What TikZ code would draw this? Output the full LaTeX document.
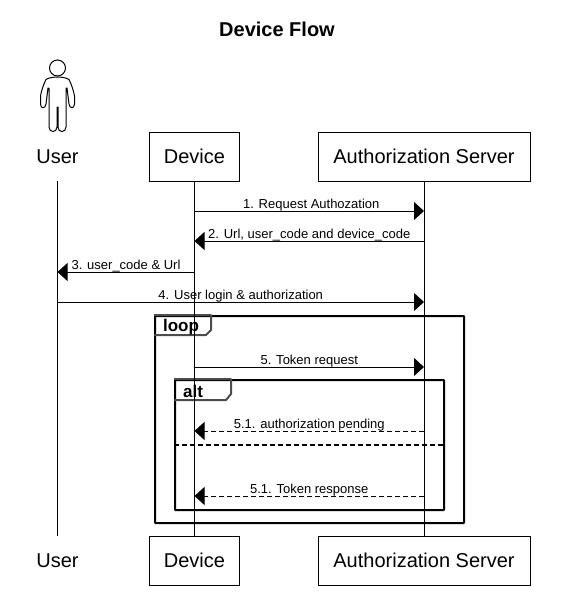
\documentclass[tikz,border=0pt]{standalone}
\usepackage{fontspec}
\setmainfont{Liberation Sans}
\usetikzlibrary{arrows.meta}

\begin{document}
\begin{tikzpicture}[x=1pt,y=-1pt,
  headbox/.style={draw,line width=1pt,font=\fontsize{20}{24}\selectfont,minimum height=49pt,inner sep=0pt},
  actorname/.style={font=\fontsize{20}{24}\selectfont,minimum height=49pt,minimum width=50pt,inner sep=0pt},
  msg/.style={line width=1pt,-{Triangle[length=10pt,width=18pt]}},
  reply/.style={msg,dash pattern=on 5pt off 3pt},
  msgtext/.style={above,font=\fontsize{13}{15}\selectfont,inner sep=0pt,yshift=-1pt},
  framebox/.style={draw,line width=2pt,rounded corners=0.5pt,inner sep=0pt},
  tabline/.style={line width=2pt,line join=round,draw=black!70},
  tabtext/.style={font=\bfseries\fontsize{17}{20}\selectfont,inner sep=0pt}]
\useasboundingbox (0,0) rectangle (563,597);

\node [font=\bfseries\fontsize{20}{24}\selectfont] (title) at (277,29) {Device Flow};

% person above the first lifeline
\draw [line width=1pt] (57.5,68) circle (8);
\draw [line width=1pt,line join=round] (57.5,77)
  .. controls (53,77) and (48,78) .. (46,79.5) .. controls (44,83) and (41,92) .. (40.5,96)
  -- (40.5,104) .. controls (40.5,109) and (45.5,109) .. (46,104) -- (48,88) -- (49,88)
  -- (49,127) .. controls (49,133) and (57,133) .. (57,127) -- (57,107) -- (58,107) -- (58,127)
  .. controls (58,133) and (66,133) .. (66,127) -- (66,88) -- (67,88) -- (69,104)
  .. controls (69.5,109) and (74.5,109) .. (74.5,104) -- (74.5,96)
  .. controls (74,92) and (71,83) .. (69,79.5) .. controls (67,78) and (62,77) .. (57.5,77);

\node [actorname] (user)  at (57.5,156.5) {User};
\node [headbox,minimum width=90pt]  (device) at (194.5,156.5) {Device};
\node [headbox,minimum width=212pt] (auth)   at (424,156.5)   {Authorization Server};
\node [actorname] (user2)  at (57.5,560.5) {User};
\node [headbox,minimum width=90pt]  (device2) at (194.5,560.5) {Device};
\node [headbox,minimum width=212pt] (auth2)   at (424,560.5)   {Authorization Server};

% frames first, the lifelines run over them
\node [framebox,minimum width=309pt,minimum height=207pt] (loopframe) at (309.5,419.5) {};
\node [framebox,minimum width=269pt,minimum height=130pt] (altframe)  at (309.5,445) {};
\draw [line width=2pt,dash pattern=on 5pt off 3pt] (altframe.west) -- (altframe.east);
\draw [tabline] (loopframe.north west) -- ++(57,0) -- ++(0,15) -- ++(-5,5) -- ++(-52,0);
\draw [tabline] (altframe.north west) -- ++(57,0) -- ++(0,15) -- ++(-5,6) -- ++(-52,0);
\node [tabtext] (looptext) at (181,327.5) {loop};
\node [tabtext] (alttext)  at (193,391.5) {alt};

\draw [line width=1pt] (user)   -- (user2);
\draw [line width=1pt] (device) -- (device2);
\draw [line width=1pt] (auth)   -- (auth2);

\foreach \row/\ypos in {a/211,b/241,c/272,d/302,e/367,f/431,g/496} {
  \coordinate (u\row) at (user |- 0,\ypos);
  \coordinate (d\row) at (device |- 0,\ypos);
  \coordinate (s\row) at (auth |- 0,\ypos);
}

\draw [msg] (da) to node [msgtext,xshift=2pt] {1. Request Authozation} (sa);
\draw [msg] (sb) to node [msgtext] {2. Url, user\_code and device\_code} (db);
\draw [msg] (dc) to node [msgtext] {3. user\_code \& Url} (uc);
\draw [msg] (ud) to node [msgtext] {4. User login \& authorization} (sd);
\draw [msg] (de) to node [msgtext] {5. Token request} (se);
\draw [reply] (sf) to node [msgtext] {5.1. authorization pending} (df);
\draw [reply] (sg) to node [msgtext] {5.1. Token response} (dg);
\end{tikzpicture}
\end{document}
